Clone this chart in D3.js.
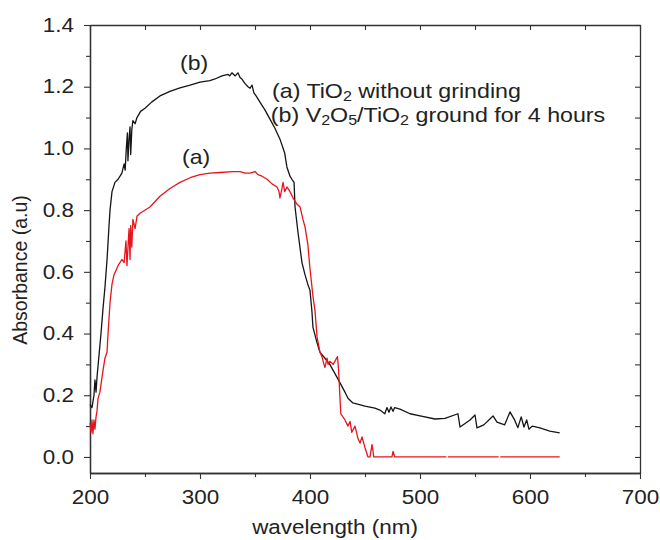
<!DOCTYPE html>
<html>
<head>
<meta charset="utf-8">
<script src="https://cdn.jsdelivr.net/npm/d3@7"></script>
<style>
  body { margin: 0; background: #fff; }
  text { font-family: Arial, "Liberation Sans", sans-serif; fill: #222; }
</style>
</head>
<body>
<div id="chart"></div>
<script>
// Data
// (b) V2O5/TiO2 ground for 4 hours (black)
const bWave = [200, 201.8, 203.6, 204.5, 205.5, 206.4, 208.2, 210, 211.8, 213.6, 215.5, 217.3, 218.2, 220, 222.7,
  225.5, 227.3, 229, 231, 232, 233, 234, 234.5, 235.5, 236.4, 237, 238, 239, 241, 242.7, 246, 250, 256, 263.6,
  272.7, 281.8, 291, 300, 309, 313.6, 320, 325.5, 327, 329, 332, 334.5, 336.4, 338, 340, 341, 343.6, 345.5,
  347.3, 349, 351, 354.5, 359, 363.6, 368, 372.7, 377, 379, 381.8, 383.6, 385.5, 386.4, 389, 392.7, 395.5,
  398, 400, 401.8, 402.7, 406.4, 409, 413.6, 418, 422.7, 427.3, 431.8, 434.5, 439, 450, 459, 463.6, 468,
  470, 471.8, 473.6, 475.5, 477, 481.8, 491, 500, 513.6, 522.7, 534.5, 536.4, 545.5, 550, 551.8, 558, 566.4,
  570, 577, 581.8, 586, 589, 592, 594.5, 597, 599, 602, 609, 618, 627];
const bAbs = [0.17, 0.16, 0.20, 0.25, 0.21, 0.26, 0.33, 0.40, 0.48, 0.55, 0.64, 0.75, 0.80, 0.86, 0.89,
  0.90, 0.91, 0.92, 0.95, 0.93, 1.00, 1.05, 0.96, 1.03, 1.07, 0.98, 1.06, 1.09, 1.08, 1.10, 1.12, 1.13, 1.15, 1.17,
  1.185, 1.196, 1.205, 1.215, 1.22, 1.225, 1.235, 1.24, 1.235, 1.245, 1.235, 1.245, 1.23, 1.225, 1.215, 1.21, 1.20, 1.195,
  1.205, 1.18, 1.17, 1.15, 1.125, 1.095, 1.066, 1.03, 0.985, 0.94, 0.91, 0.90, 0.89, 0.81, 0.73, 0.63, 0.59,
  0.56, 0.54, 0.47, 0.42, 0.37, 0.34, 0.32, 0.30, 0.27, 0.24, 0.21, 0.19, 0.175, 0.165, 0.158, 0.152, 0.14,
  0.16, 0.145, 0.162, 0.148, 0.16, 0.155, 0.14, 0.133, 0.123, 0.125, 0.14, 0.097, 0.12, 0.136, 0.094, 0.104, 0.133,
  0.113, 0.104, 0.146, 0.12, 0.095, 0.13, 0.097, 0.12, 0.09, 0.10, 0.094, 0.084, 0.078];

// (a) TiO2 without grinding (red); null = small break in the trace
const aWave = [200, 201, 201.8, 202.7, 203.6, 204.5, 205.5, 206.4, 207.3, 209, 211.8, 213.6, 215.5, 216.4, 218.2,
  220, 221.8, 225.5, 229, 231, 232.7, 233.6, 235.5, 236.4, 237, 238, 239, 241, 242.7, 245.5, 254.5, 263.6,
  272.7, 281.8, 291, 300, 309, 318, 330, 336.4, 341, 345.5, 350, 352.7, 356.4, 361, 365.5, 370, 371.8, 372.7,
  374.5, 375.5, 377, 379, 381.8, 384.5, 388, 391, 393.6, 395.5, 398, 400, 402.7, 404.5, 406.4, 409, 410.9,
  412.7, 413.6, 415.5, 416.4, 418, 421, 425, 426, 428, 431.8, 434.5, 436.4, 438, 440.9, 443.6, 445.5, 447.3,
  450, 452.7, 454.5, 456.4, 458, 463.6, 474.5, 475.5, 477, 524, 524.8, 525.5, 571.5, 572.2, 573, 627];
const aAbs = [0.11, 0.08, 0.12, 0.075, 0.12, 0.09, 0.13, 0.15, 0.19, 0.21, 0.28, 0.32, 0.34, 0.40, 0.50,
  0.56, 0.59, 0.62, 0.64, 0.63, 0.70, 0.62, 0.74, 0.64, 0.75, 0.68, 0.77, 0.74, 0.78, 0.79, 0.81, 0.845,
  0.87, 0.89, 0.905, 0.915, 0.92, 0.922, 0.925, 0.925, 0.92, 0.92, 0.925, 0.915, 0.91, 0.90, 0.885, 0.875, 0.86, 0.84,
  0.87, 0.89, 0.86, 0.875, 0.86, 0.84, 0.82, 0.81, 0.77, 0.745, 0.69, 0.61, 0.52, 0.475, 0.39, 0.34, 0.325,
  0.30, 0.29, 0.32, 0.30, 0.31, 0.30, 0.325, 0.28, 0.14, 0.12, 0.10, 0.115, 0.08, 0.10, 0.06, 0.045, 0.065,
  0.03, 0.0, 0.0, 0.04, 0.0, 0.0, 0.0, 0.018, 0.0, 0.0, null, 0.0, 0.0, null, 0.0, 0.0];

const xTicks = [200, 300, 400, 500, 600, 700];
const xMinor = [250, 350, 450, 550, 650];
const yTicks = [0.0, 0.2, 0.4, 0.6, 0.8, 1.0, 1.2, 1.4];
const yMinor = [0.1, 0.3, 0.5, 0.7, 0.9, 1.1, 1.3];

const labelA = "(a)";
const labelB = "(b)";

// Layout
const W = 660, H = 540;
const mLeft = 90, mRight = 640, mTop = 25, mBottom = 473;
const STRETCH = 1.15; // the original picture is a bit wider than tall

const svg = d3.select("#chart").append("svg")
    .attr("width", W)
    .attr("height", H);

const x = d3.scaleLinear().domain([200, 700]).range([mLeft, mRight]);
const y = d3.scaleLinear().domain([-0.052, 1.4]).range([mBottom, mTop]);

// stretch axis texts horizontally
function widen(sel) {
    sel.each(function() {
        const w = this.getComputedTextLength();
        d3.select(this)
            .attr("textLength", w * STRETCH)
            .attr("lengthAdjust", "spacingAndGlyphs");
    });
}

// Frame: top and right with inward ticks
svg.append("g")
    .attr("transform", `translate(0, ${mTop})`)
    .call(d3.axisBottom(x).tickValues(d3.range(200, 701, 50)).tickSize(5).tickSizeOuter(0).tickFormat(""));
svg.append("g")
    .attr("transform", `translate(${mRight}, 0)`)
    .call(d3.axisLeft(y).tickValues(d3.range(0, 15).map(i => i / 10)).tickSize(5).tickSizeOuter(0).tickFormat(""));

// Bottom axis
svg.append("g")
    .attr("transform", `translate(0, ${mBottom})`)
    .call(d3.axisBottom(x).tickValues(xMinor).tickSize(4).tickSizeOuter(0).tickFormat(""));
const xAxis = svg.append("g")
    .attr("transform", `translate(0, ${mBottom})`)
    .call(d3.axisBottom(x).tickValues(xTicks).tickSize(6).tickSizeOuter(0).tickPadding(11).tickFormat(d3.format("d")));

// Left axis
svg.append("g")
    .attr("transform", `translate(${mLeft}, 0)`)
    .call(d3.axisLeft(y).tickValues(yMinor).tickSize(4).tickSizeOuter(0).tickFormat(""));
const yAxis = svg.append("g")
    .attr("transform", `translate(${mLeft}, 0)`)
    .call(d3.axisLeft(y).tickValues(yTicks).tickSize(6).tickSizeOuter(0).tickPadding(10).tickFormat(d3.format(".1f")));

svg.selectAll(".domain").attr("stroke", "#333").attr("stroke-width", 1.3);
svg.selectAll(".tick line").attr("stroke", "#333").attr("stroke-width", 1.1);

xAxis.selectAll("text").attr("font-size", 19.5).style("fill", "#222");
yAxis.selectAll("text").attr("font-size", 19.5).style("fill", "#222");
xAxis.selectAll("text").call(widen);
yAxis.selectAll("text").call(widen);

// Axis titles
svg.append("g")
    .attr("transform", `translate(${(mLeft + mRight) / 2 - 30}, 534) scale(${STRETCH}, 1)`)
    .append("text")
    .attr("text-anchor", "middle")
    .attr("font-size", 19.5)
    .text("wavelength (nm)");

svg.append("text")
    .attr("transform", `translate(27, ${(mTop + mBottom) / 2 + 21}) rotate(-90)`)
    .attr("text-anchor", "middle")
    .attr("font-size", 19.5)
    .text("Absorbance (a.u)");

// Curves
const line = d3.line()
    .defined(d => d[1] != null)
    .x(d => x(d[0]))
    .y(d => y(d[1]));

svg.append("path")
    .datum(bWave.map((w, i) => [w, bAbs[i]]))
    .attr("fill", "none")
    .attr("stroke", "#151515")
    .attr("stroke-width", 1.3)
    .attr("stroke-linejoin", "round")
    .attr("d", line);

svg.append("path")
    .datum(aWave.map((w, i) => [w, aAbs[i]]))
    .attr("fill", "none")
    .attr("stroke", "#e8141c")
    .attr("stroke-width", 1.3)
    .attr("stroke-linejoin", "round")
    .attr("d", line);

// Curve labels
svg.append("g")
    .attr("transform", `translate(180, 70) scale(${STRETCH}, 1)`)
    .append("text").attr("font-size", 20).text(labelB);
svg.append("g")
    .attr("transform", `translate(182, 164) scale(${STRETCH}, 1)`)
    .append("text").attr("font-size", 20).text(labelA);

// Legend text with subscripts
const legend = svg.append("g")
    .attr("transform", `translate(272, 0) scale(${STRETCH}, 1)`);

const l1 = legend.append("text").attr("y", 98).attr("font-size", 20.2);
l1.append("tspan").text("(a) TiO");
l1.append("tspan").attr("font-size", 14).attr("dy", 3).text("2");
l1.append("tspan").attr("dy", -3).text(" without grinding");

const l2 = legend.append("text").attr("y", 122).attr("x", -1).attr("font-size", 20.2);
l2.append("tspan").text("(b) V");
l2.append("tspan").attr("font-size", 14).attr("dy", 3).text("2");
l2.append("tspan").attr("dy", -3).text("O");
l2.append("tspan").attr("font-size", 14).attr("dy", 3).text("5");
l2.append("tspan").attr("dy", -3).text("/TiO");
l2.append("tspan").attr("font-size", 14).attr("dy", 3).text("2");
l2.append("tspan").attr("dy", -3).text(" ground for 4 hours");
</script>
</body>
</html>
